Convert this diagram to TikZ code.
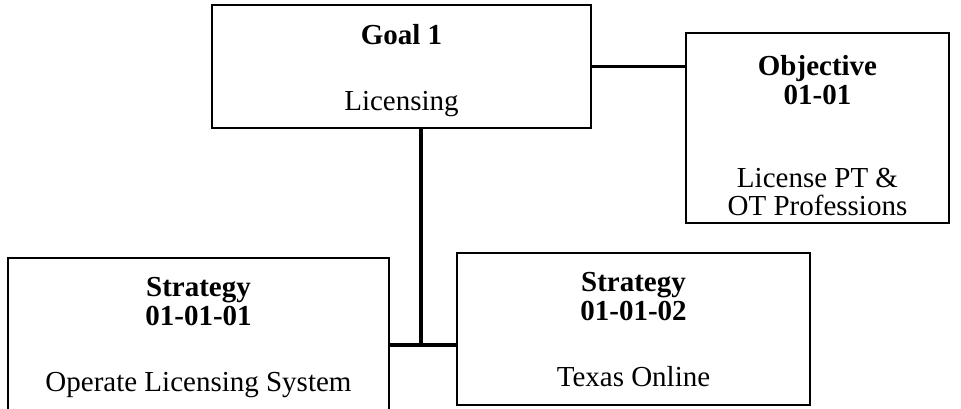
\documentclass[tikz,border=0pt]{standalone}
\usepackage{fontspec}
\setmainfont{Liberation Serif}
\usetikzlibrary{positioning, fit}

\begin{document}
\begin{tikzpicture}[
        x=0.5pt, y=-0.5pt,
        node distance=10pt,
        box/.style={rectangle, draw=black, line width=1pt, inner sep=0pt},
        txt/.style={inner sep=0pt, align=center, font=\fontsize{14.5}{14.2}\selectfont},
        link/.style={line width=1.6pt}
    ]
        \useasboundingbox[fill=white] (0,0) rectangle (961,408);

        % boxes
        \node [box, fit={(212,5) (591,128)}] (goal) {};
        \node [box, fit={(686,33) (949,223)}] (obj) {};
        \node [box, fit={(8,258) (389,420)}] (strat1) {};
        \node [box, fit={(457,253) (810,405)}] (strat2) {};

        % texts
        \node [txt, below=10.2pt of goal.north] (goaltext) {\textbf{Goal 1}\\[18.8pt]Licensing};
        \node [txt, below=11.6pt of obj.north] (objtext) {\textbf{Objective}\\\textbf{01-01}\\[27.4pt]License PT \&\\OT Professions};
        \node [txt, below=10pt of strat1.north] (strat1text) {\textbf{Strategy}\\\textbf{01-01-01}\\[18.8pt]Operate Licensing System};
        \node [txt, below=10pt of strat2.north] (strat2text) {\textbf{Strategy}\\\textbf{01-01-02}\\[18.8pt]Texas Online};

        % connectors
        \coordinate (join) at (421,345);
        \draw [link] (goal.east) -- (goal.east -| obj.west);
        \draw [link] (join |- goal.south) -- (join);
        \draw [link] (join -| strat1.east) -- (join -| strat2.west);
\end{tikzpicture}
\end{document}
